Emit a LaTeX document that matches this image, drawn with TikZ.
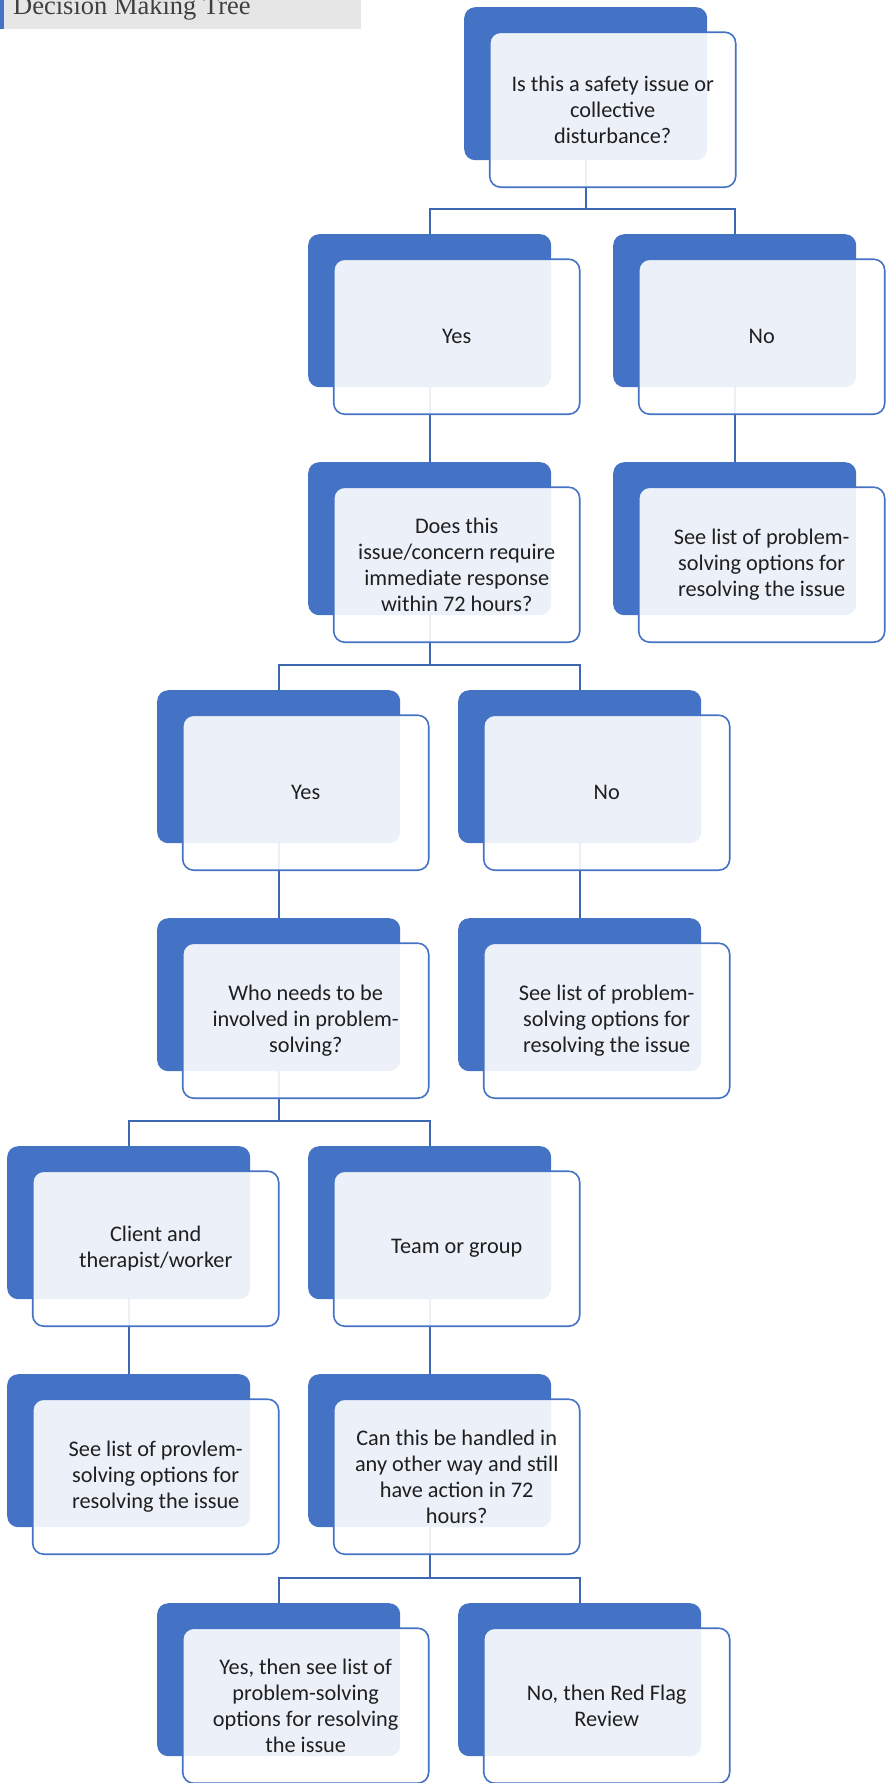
\documentclass[tikz,border=0pt]{standalone}
\usepackage{fontspec}
\setmainfont{Carlito}
\newfontfamily\titlefont{Liberation Serif}
\definecolor{smblue}{HTML}{4472C4}
\definecolor{titlegray}{HTML}{E6E6E6}

\begin{document}
\begin{tikzpicture}[x=1pt,y=-1pt,
    back/.style={fill=smblue,rounded corners=11pt,minimum width=243pt,minimum height=153pt,anchor=north west,inner sep=0pt},
    front/.style={draw=smblue,line width=1.6pt,fill=white,fill opacity=0.9,text opacity=1,rounded corners=11pt,
        minimum width=246pt,minimum height=155pt,align=center,text=black!88,
        font=\fontsize{22.3}{26}\selectfont},
    conn/.style={draw=smblue!90!black,line width=1.6pt}]
    \clip (0,0) rectangle (886,1783);
    \useasboundingbox (0,0) rectangle (886,1783);
    % title bar
    \fill[titlegray] (4,0) rectangle (361,29);
    \fill[smblue] (0,0) rectangle (4,29);
    \node[anchor=base west,inner sep=0pt,text=black!75,font=\titlefont\fontsize{26.5}{30}\selectfont] (title) at (13,14) {Decision Making Tree};
    % dark boxes
    \node[back] (top-b) at (464,7) {};
    \node[back] (yes1-b) at (308,234) {};
    \node[back] (no1-b) at (613,234) {};
    \node[back] (does-b) at (308,462) {};
    \node[back] (list1-b) at (613,462) {};
    \node[back] (yes2-b) at (157,690) {};
    \node[back] (no2-b) at (458,690) {};
    \node[back] (who-b) at (157,918) {};
    \node[back] (list2-b) at (458,918) {};
    \node[back] (client-b) at (7,1146) {};
    \node[back] (team-b) at (308,1146) {};
    \node[back] (list3-b) at (7,1374) {};
    \node[back] (can-b) at (308,1374) {};
    \node[back] (yes3-b) at (157,1603) {};
    \node[back] (no3-b) at (458,1603) {};
    % connectors
    \draw[conn] (top-b.south) |- ([yshift=25pt]yes1-b.north) -- (yes1-b.north);
    \draw[conn] (top-b.south) |- ([yshift=25pt]no1-b.north) -- (no1-b.north);
    \draw[conn] (yes1-b.south) |- ([yshift=25pt]does-b.north) -- (does-b.north);
    \draw[conn] (no1-b.south) |- ([yshift=25pt]list1-b.north) -- (list1-b.north);
    \draw[conn] (does-b.south) |- ([yshift=25pt]yes2-b.north) -- (yes2-b.north);
    \draw[conn] (does-b.south) |- ([yshift=25pt]no2-b.north) -- (no2-b.north);
    \draw[conn] (yes2-b.south) |- ([yshift=25pt]who-b.north) -- (who-b.north);
    \draw[conn] (no2-b.south) |- ([yshift=25pt]list2-b.north) -- (list2-b.north);
    \draw[conn] (who-b.south) |- ([yshift=25pt]client-b.north) -- (client-b.north);
    \draw[conn] (who-b.south) |- ([yshift=25pt]team-b.north) -- (team-b.north);
    \draw[conn] (client-b.south) |- ([yshift=25pt]list3-b.north) -- (list3-b.north);
    \draw[conn] (team-b.south) |- ([yshift=25pt]can-b.north) -- (can-b.north);
    \draw[conn] (can-b.south) |- ([yshift=25pt]yes3-b.north) -- (yes3-b.north);
    \draw[conn] (can-b.south) |- ([yshift=25pt]no3-b.north) -- (no3-b.north);
    % light boxes with text
    \node[front] (top) at ([xshift=27pt,yshift=-26pt]top-b.center) {Is this a safety issue or\\collective\\disturbance?};
    \node[front] (yes1) at ([xshift=27pt,yshift=-26pt]yes1-b.center) {Yes};
    \node[front] (no1) at ([xshift=27pt,yshift=-26pt]no1-b.center) {No};
    \node[front] (does) at ([xshift=27pt,yshift=-26pt]does-b.center) {Does this\\issue/concern require\\immediate response\\within 72 hours?};
    \node[front] (list1) at ([xshift=27pt,yshift=-26pt]list1-b.center) {See list of problem-\\solving options for\\resolving the issue};
    \node[front] (yes2) at ([xshift=27pt,yshift=-26pt]yes2-b.center) {Yes};
    \node[front] (no2) at ([xshift=27pt,yshift=-26pt]no2-b.center) {No};
    \node[front] (who) at ([xshift=27pt,yshift=-26pt]who-b.center) {Who needs to be\\involved in problem-\\solving?};
    \node[front] (list2) at ([xshift=27pt,yshift=-26pt]list2-b.center) {See list of problem-\\solving options for\\resolving the issue};
    \node[front] (client) at ([xshift=27pt,yshift=-26pt]client-b.center) {Client and\\therapist/worker};
    \node[front] (team) at ([xshift=27pt,yshift=-26pt]team-b.center) {Team or group};
    \node[front] (list3) at ([xshift=27pt,yshift=-26pt]list3-b.center) {See list of provlem-\\solving options for\\resolving the issue};
    \node[front] (can) at ([xshift=27pt,yshift=-26pt]can-b.center) {Can this be handled in\\any other way and still\\have action in 72\\hours?};
    \node[front] (yes3) at ([xshift=27pt,yshift=-26pt]yes3-b.center) {Yes, then see list of\\problem-solving\\options for resolving\\the issue};
    \node[front] (no3) at ([xshift=27pt,yshift=-26pt]no3-b.center) {No, then Red Flag\\Review};
\end{tikzpicture}
\end{document}
